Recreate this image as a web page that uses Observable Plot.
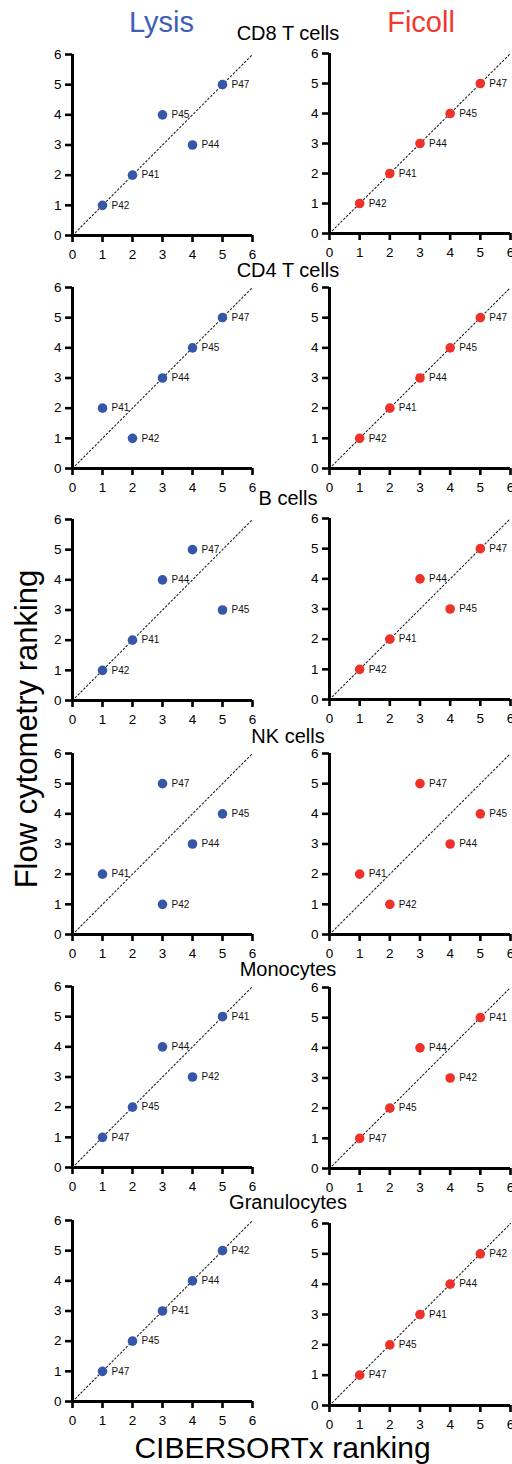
<!DOCTYPE html>
<html><head><meta charset="utf-8">
<script src="https://cdn.jsdelivr.net/npm/d3@7"></script>
<script src="https://cdn.jsdelivr.net/npm/@observablehq/plot@0.6"></script>
<style>
body{margin:0;background:#fff;}
#root{position:relative;width:512px;height:1464px;overflow:hidden;font-family:"Liberation Sans",Arial,sans-serif;color:#000;}
.lbl{position:absolute;white-space:nowrap;line-height:1;}
svg{position:absolute;overflow:visible;}
</style></head><body><div id="root"></div>
<script>
const cellTypes = ["CD8 T cells","CD4 T cells","B cells","NK cells","Monocytes","Granulocytes"];
const methods = ["Lysis","Ficoll"];
const methodColors = ["#3657a8","#ef3229"];
const lysisPatients = [
 ["P42","P41","P45","P44","P47"],
 ["P41","P42","P44","P45","P47"],
 ["P42","P41","P44","P47","P45"],
 ["P41","P42","P47","P44","P45"],
 ["P47","P45","P44","P42","P41"],
 ["P47","P45","P41","P44","P42"]];
const lysisCibersortx = [[1,2,3,4,5],[1,2,3,4,5],[1,2,3,4,5],[1,3,3,4,5],[1,2,3,4,5],[1,2,3,4,5]];
const lysisFlow = [[1,2,4,3,5],[2,1,3,4,5],[1,2,4,5,3],[2,1,5,3,4],[1,2,4,3,5],[1,2,3,4,5]];
const ficollPatients = [
 ["P42","P41","P44","P45","P47"],
 ["P42","P41","P44","P45","P47"],
 ["P42","P41","P44","P45","P47"],
 ["P41","P42","P47","P44","P45"],
 ["P47","P45","P44","P42","P41"],
 ["P47","P45","P41","P44","P42"]];
const ficollCibersortx = [[1,2,3,4,5],[1,2,3,4,5],[1,2,3,4,5],[1,2,3,4,5],[1,2,3,4,5],[1,2,3,4,5]];
const ficollFlow = [[1,2,3,4,5],[1,2,3,4,5],[1,2,4,3,5],[2,1,5,3,4],[1,2,4,3,5],[1,2,3,4,5]];
const tickValues = [0,1,2,3,4,5,6];
const xTitle = "CIBERSORTx ranking";
const yTitle = "Flow cytometry ranking";

const root = document.getElementById("root");
const FONT = '"Liberation Sans", Arial, sans-serif';

// layout: pixel frames for each panel
const colX = [[72,252],[329,510]];
const rowY = [
  [[54,235],[53,233]],
  [[287,468],[287,468]],
  [[519,700],[518,699]],
  [[753,934],[753,934]],
  [[986,1167],[987,1168]],
  [[1220,1401],[1223,1405]]
];
const titleBaselines = [40,277,505,743,976,1209];

function addLabel(text, size, color, cx, baseline) {
  const d = document.createElement("div");
  d.className = "lbl";
  d.textContent = text;
  d.style.fontSize = size + "px";
  d.style.color = color;
  d.style.left = cx + "px";
  d.style.top = (baseline - 0.8465 * size) + "px";
  d.style.transform = "translateX(-50%)";
  root.appendChild(d);
  return d;
}

const dom = [tickValues[0], tickValues[tickValues.length - 1]];
const diag = dom.map(v => ({a: v, b: v}));

function panel(rows, color, x0, x6, y6, y0) {
  const ml = 40, mr = 12, mt = 10, mb = 30;
  const w = x6 - x0, h = y0 - y6;
  const svg = Plot.plot({
    width: w + ml + mr, height: h + mt + mb,
    marginLeft: ml, marginRight: mr, marginTop: mt, marginBottom: mb,
    x: {domain: dom}, y: {domain: dom},
    style: {fontFamily: FONT, fontSize: "13px", color: "#000", background: "transparent", overflow: "visible"},
    marks: [
      Plot.line(diag, {x: "a", y: "b", stroke: "#222", strokeWidth: 1.1, strokeDasharray: "1.6,2.4"}),
      Plot.axisX({ticks: tickValues, tickSize: 7, tickPadding: 7, strokeWidth: 2.6, fontSize: 13.5, tickFormat: d => d, label: null}),
      Plot.axisY({ticks: tickValues, tickSize: 7, tickPadding: 4, strokeWidth: 2.6, fontSize: 13.5, tickFormat: d => d, label: null}),
      Plot.ruleX([0], {stroke: "#000", strokeWidth: 3}),
      Plot.ruleY([0], {stroke: "#000", strokeWidth: 3}),
      Plot.dot(rows, {x: "c", y: "f", r: 4.8, fill: color}),
      Plot.text(rows, {x: "c", y: "f", text: "p", dx: 9, textAnchor: "start", fontSize: 10, fill: "#111"})
    ]
  });
  svg.style.left = (x0 - ml) + "px";
  svg.style.top = (y6 - mt) + "px";
  root.appendChild(svg);
}

const sets = [
  [lysisPatients, lysisCibersortx, lysisFlow],
  [ficollPatients, ficollCibersortx, ficollFlow]
];

cellTypes.forEach((ct, i) => {
  sets.forEach((s, m) => {
    const rows = s[0][i].map((p, k) => ({p, c: s[1][i][k], f: s[2][i][k]}));
    panel(rows, methodColors[m], colX[m][0], colX[m][1], rowY[i][m][0], rowY[i][m][1]);
  });
  addLabel(ct, 20, "#000", 288, titleBaselines[i]);
});

addLabel(methods[0], 29, "#3f5fb5", 161.5, 32.5);
addLabel(methods[1], 29, "#f03a30", 421, 32.5);
addLabel(xTitle, 30, "#000", 282.5, 1458.5);

const yt = document.createElement("div");
yt.className = "lbl";
yt.textContent = yTitle;
yt.style.fontSize = "31px";
yt.style.left = "26.3px";
yt.style.top = "729px";
yt.style.transform = "translate(-50%,-50%) rotate(-90deg)";
root.appendChild(yt);
</script></body></html>
